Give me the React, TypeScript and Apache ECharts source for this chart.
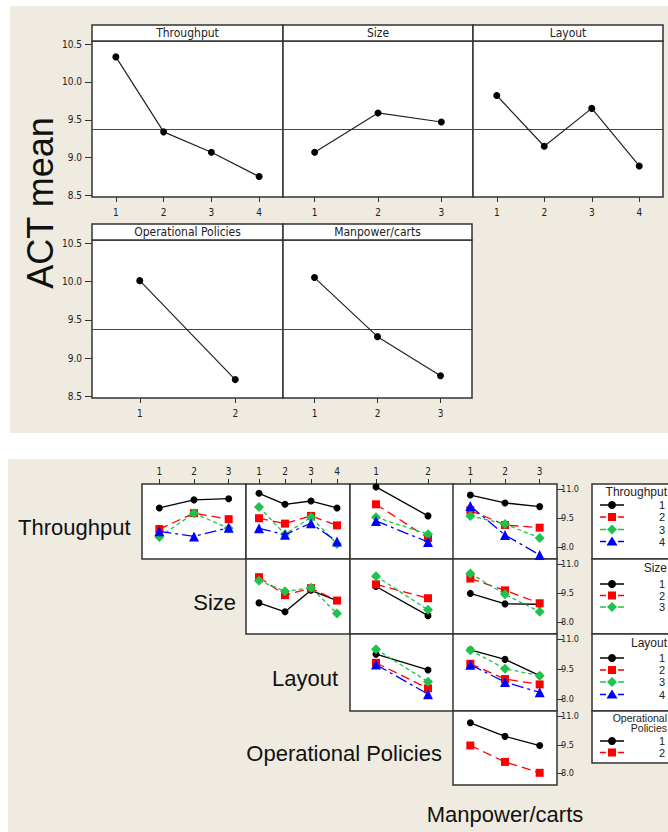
import React, { useEffect, useRef } from "react";
import * as echarts from "echarts";

// ---------- data ----------
const grandMean = 9.37;
const mainThroughput = [10.33, 9.34, 9.07, 8.75];
const mainSize = [9.07, 9.59, 9.47];
const mainLayout = [9.82, 9.15, 9.65, 8.89];
const mainOpPolicies = [10.01, 8.72];
const mainManpower = [10.05, 9.28, 8.77];
const mainTicks = [8.5, 9.0, 9.5, 10.0, 10.5];

const throughputBySize = [
  [10.03, 10.45, 10.51],
  [8.94, 9.76, 9.45],
  [8.53, 9.76, 8.98],
  [8.82, 8.56, 9.01],
];
const throughputByLayout = [
  [10.79, 10.22, 10.39, 10.03],
  [9.5, 9.22, 9.62, 9.13],
  [10.08, 8.67, 9.55, 8.17],
  [8.98, 8.65, 9.24, 8.29],
];
const throughputByOp = [
  [11.12, 9.62],
  [10.22, 8.48],
  [9.55, 8.67],
  [9.36, 8.27],
];
const throughputByManpower = [
  [10.7, 10.29, 10.1],
  [9.91, 9.15, 9.01],
  [9.62, 9.2, 8.48],
  [10.13, 8.63, 7.6],
];
const sizeByLayout = [
  [9.0, 8.54, 9.65, 9.12],
  [10.33, 9.4, 9.76, 9.12],
  [10.15, 9.6, 9.78, 8.45],
];
const sizeByOp = [
  [9.85, 8.34],
  [9.96, 9.24],
  [10.38, 8.64],
];
const sizeByManpower = [
  [9.49, 8.95, 8.93],
  [10.26, 9.65, 8.98],
  [10.52, 9.44, 8.54],
];
const layoutByOp = [
  [10.25, 9.46],
  [9.82, 8.53],
  [10.5, 8.87],
  [9.73, 8.24],
];
const layoutByManpower = [
  [10.47, 9.99, 9.17],
  [9.77, 9.0, 8.73],
  [10.45, 9.52, 9.17],
  [9.72, 8.85, 8.33],
];
const opByManpower = [
  [10.65, 9.94, 9.46],
  [9.46, 8.6, 8.03],
];
const interactionTicks = [8.0, 9.5, 11.0];

const rowFactors = ["Throughput", "Size", "Layout", "Operational Policies"];
const colFactors = ["Size", "Layout", "Operational Policies", "Manpower/carts"];
const colLevels = [3, 4, 2, 3];

// ---------- styling ----------
const FONT_AX = "'DejaVu Sans Condensed', 'Liberation Sans', sans-serif";
const FONT_BIG = "'Liberation Sans', Arial, sans-serif";
const LINE = "#333";

const levelStyles = [
  { color: "#000000", symbol: "circle", size: 7, dash: "solid" as any },
  { color: "#ff0000", symbol: "rect", size: 8, dash: [9, 5] },
  { color: "#1fc24d", symbol: "diamond", size: 10, dash: [4, 3] },
  { color: "#0000ff", symbol: "triangle", size: 10, dash: [12, 4, 3, 4] },
];

export default function App() {
  const ref = useRef<HTMLDivElement>(null);

  useEffect(() => {
    if (!ref.current) return;
    const chart = echarts.init(ref.current, undefined, { renderer: "svg" });

    const grids: any[] = [];
    const xAxes: any[] = [];
    const yAxes: any[] = [];
    const series: any[] = [];
    const graphics: any[] = [];

    // ---------- main effects plot ----------
    const topPanels = [
      { name: "Throughput", data: mainThroughput, left: 92, top: 41, width: 191, height: 156, yl: true },
      { name: "Size", data: mainSize, left: 283, top: 41, width: 190, height: 156, yl: false },
      { name: "Layout", data: mainLayout, left: 473, top: 41, width: 190, height: 156, yl: false },
      { name: "Operational Policies", data: mainOpPolicies, left: 92, top: 240, width: 191, height: 158, yl: true },
      { name: "Manpower/carts", data: mainManpower, left: 283, top: 240, width: 189, height: 158, yl: false },
    ];

    topPanels.forEach((p) => {
      const gi = grids.length;
      grids.push({
        left: p.left, top: p.top, width: p.width, height: p.height,
        show: true, backgroundColor: "#fff", borderColor: LINE, borderWidth: 1.5,
        outerBoundsMode: "none", containLabel: false,
      });
      const n = p.data.length;
      const ticks = p.data.map((_, i) => i + 1);
      xAxes.push({
        type: "value", gridIndex: gi, min: 0.5, max: n + 0.5,
        splitLine: { show: false },
        axisLine: { show: false },
        axisTick: { show: true, customValues: ticks, length: 5, inside: false, lineStyle: { color: LINE, width: 1 } },
        axisLabel: { show: true, customValues: ticks, margin: 10, color: "#222", fontSize: 10, fontFamily: FONT_AX, formatter: (v: number) => String(v) },
      });
      yAxes.push({
        type: "value", gridIndex: gi, min: 8.48, max: 10.54,
        splitLine: { show: false },
        axisLine: { show: false },
        axisTick: { show: p.yl, customValues: mainTicks, length: 7, lineStyle: { color: LINE, width: 1 } },
        axisLabel: { show: p.yl, customValues: mainTicks, margin: 10, color: "#222", fontSize: 10, fontFamily: FONT_AX, formatter: (v: number) => v.toFixed(1) },
      });
      series.push({
        type: "line", xAxisIndex: gi, yAxisIndex: gi,
        data: p.data.map((v, i) => [i + 1, v]),
        symbol: "circle", symbolSize: 7,
        itemStyle: { color: "#000" },
        lineStyle: { color: "#222", width: 1.2 },
        markLine: {
          silent: true, symbol: "none",
          lineStyle: { color: "#444", width: 1, type: "solid" },
          label: { show: false },
          data: [{ yAxis: grandMean }],
        },
        z: 5,
      });
      // header strip
      graphics.push({
        type: "rect", z: 10,
        shape: { x: p.left, y: p.top - 16, width: p.width, height: 16 },
        style: { fill: "#fff", stroke: LINE, lineWidth: 1.5 },
      });
      graphics.push({
        type: "text", z: 11,
        x: p.left + p.width / 2, y: p.top - 8,
        style: {
          text: p.name, fill: "#222", font: `12px ${FONT_AX}`,
          textAlign: "center", textVerticalAlign: "middle", align: "center", verticalAlign: "middle",
        },
      });
    });

    graphics.push({
      type: "text", z: 11, x: 40, y: 203, rotation: Math.PI / 2,
      style: {
        text: "ACT mean", fill: "#111", font: `36px ${FONT_BIG}`,
        textAlign: "center", textVerticalAlign: "middle", align: "center", verticalAlign: "middle",
      },
    });

    // ---------- interaction plot matrix ----------
    const matrixData: any[][] = [
      [throughputBySize, throughputByLayout, throughputByOp, throughputByManpower],
      [null, sizeByLayout, sizeByOp, sizeByManpower],
      [null, null, layoutByOp, layoutByManpower],
      [null, null, null, opByManpower],
    ];
    const colLefts = [142, 246, 350, 453];
    const colW = 104;
    const rowTops = [484, 559, 634, 711];
    const rowHs = [75, 75, 77, 74];

    for (let r = 0; r < 4; r++) {
      for (let c = r; c < 4; c++) {
        const gi = grids.length;
        grids.push({
          left: colLefts[c], top: rowTops[r], width: colW, height: rowHs[r],
          show: true, backgroundColor: "#fff", borderColor: LINE, borderWidth: 1.5,
          outerBoundsMode: "none", containLabel: false,
        });
        const n = colLevels[c];
        const ticks = Array.from({ length: n }, (_, i) => i + 1);
        xAxes.push({
          type: "value", gridIndex: gi, min: 0.5, max: n + 0.5, position: "top",
          splitLine: { show: false },
          axisLine: { show: false },
          axisTick: { show: r === 0, customValues: ticks, length: 5, lineStyle: { color: LINE, width: 1 } },
          axisLabel: { show: r === 0, customValues: ticks, margin: 8, color: "#222", fontSize: 10, fontFamily: FONT_AX, formatter: (v: number) => String(v) },
        });
        yAxes.push({
          type: "value", gridIndex: gi, min: 7.39, max: 11.27, position: "right",
          splitLine: { show: false },
          axisLine: { show: false },
          axisTick: { show: c === 3, customValues: interactionTicks, length: 6, lineStyle: { color: LINE, width: 1 } },
          axisLabel: { show: c === 3, customValues: interactionTicks, margin: 4, color: "#222", fontSize: 9, fontFamily: FONT_AX, formatter: (v: number) => v.toFixed(1) },
        });
        const groups = matrixData[r][c] as number[][];
        groups.forEach((vals, li) => {
          const st = levelStyles[li];
          series.push({
            type: "line", xAxisIndex: gi, yAxisIndex: gi,
            name: `${rowFactors[r]} ${li + 1}`,
            data: vals.map((v, i) => [i + 1, v]),
            symbol: st.symbol, symbolSize: st.size,
            itemStyle: { color: st.color },
            lineStyle: { color: st.color, width: 1.3, type: st.dash },
            z: 5 + li,
          });
        });
      }
    }

    // row labels (diagonal)
    const rowLabelPos = [
      { x: 18, y: 527, align: "left" },
      { x: 236, y: 602, align: "right" },
      { x: 338, y: 678, align: "right" },
      { x: 442, y: 753, align: "right" },
    ];
    rowLabelPos.forEach((p, i) => {
      graphics.push({
        type: "text", z: 11, x: p.x, y: p.y,
        style: {
          text: rowFactors[i], fill: "#111", font: `22px ${FONT_BIG}`,
          textAlign: p.align, textVerticalAlign: "middle", align: p.align, verticalAlign: "middle",
        },
      });
    });
    graphics.push({
      type: "text", z: 11, x: 505, y: 814,
      style: {
        text: colFactors[3], fill: "#111", font: `22px ${FONT_BIG}`,
        textAlign: "center", textVerticalAlign: "middle", align: "center", verticalAlign: "middle",
      },
    });

    // legends
    const legendBoxes = [
      { top: 484, bottom: 559, title: ["Throughput"], titleY: [492], tf: 12, ys: [505, 517, 529.5, 541.5] },
      { top: 559, bottom: 634, title: ["Size"], titleY: [567.5], tf: 12, ys: [584, 595.5, 607] },
      { top: 634, bottom: 711, title: ["Layout"], titleY: [643], tf: 12, ys: [658, 670, 682, 694.5] },
      { top: 711, bottom: 763, title: ["Operational", "Policies"], titleY: [717.5, 728], tf: 10.5, ys: [741, 752.5] },
    ];
    const mx = 612;
    legendBoxes.forEach((b) => {
      graphics.push({
        type: "rect", z: 10,
        shape: { x: 592, y: b.top, width: 110, height: b.bottom - b.top },
        style: { fill: "#fff", stroke: LINE, lineWidth: 1.5 },
      });
      b.title.forEach((t, ti) => {
        graphics.push({
          type: "text", z: 11, x: 667, y: b.titleY[ti],
          style: {
            text: t, fill: "#222", font: `${b.tf}px ${FONT_BIG}`,
            textAlign: "right", textVerticalAlign: "middle", align: "right", verticalAlign: "middle",
          },
        });
      });
      b.ys.forEach((y, li) => {
        const st = levelStyles[li];
        graphics.push({
          type: "line", z: 11,
          shape: { x1: 600, y1: y, x2: 624, y2: y },
          style: { stroke: st.color, lineWidth: 1.5, lineDash: li === 0 ? null : [6, 3] },
        });
        let marker: any;
        if (li === 0) marker = { type: "circle", shape: { cx: mx, cy: y, r: 4 } };
        else if (li === 1) marker = { type: "rect", shape: { x: mx - 4, y: y - 4, width: 8, height: 8 } };
        else if (li === 2) marker = { type: "polygon", shape: { points: [[mx, y - 5], [mx + 5, y], [mx, y + 5], [mx - 5, y]] } };
        else marker = { type: "polygon", shape: { points: [[mx, y - 5], [mx + 5.5, y + 4], [mx - 5.5, y + 4]] } };
        marker.z = 12;
        marker.style = { fill: st.color };
        graphics.push(marker);
        graphics.push({
          type: "text", z: 11, x: 659, y,
          style: {
            text: String(li + 1), fill: "#222", font: `11px ${FONT_BIG}`,
            textAlign: "left", textVerticalAlign: "middle", align: "left", verticalAlign: "middle",
          },
        });
      });
    });

    chart.setOption({
      animation: false,
      backgroundColor: "transparent",
      grid: grids,
      xAxis: xAxes,
      yAxis: yAxes,
      series,
      graphic: { elements: graphics },
    });

    return () => chart.dispose();
  }, []);

  return (
    <div style={{ position: "absolute", left: 0, top: 0, width: 668, height: 832, background: "#fff" }}>
      <div style={{ position: "absolute", left: 10, top: 6, width: 658, height: 427, background: "#f0ebe0" }} />
      <div style={{ position: "absolute", left: 8, top: 459, width: 660, height: 373, background: "#f0ebe0" }} />
      <div ref={ref} style={{ position: "absolute", left: 0, top: 0, width: 668, height: 832 }} />
    </div>
  );
}
